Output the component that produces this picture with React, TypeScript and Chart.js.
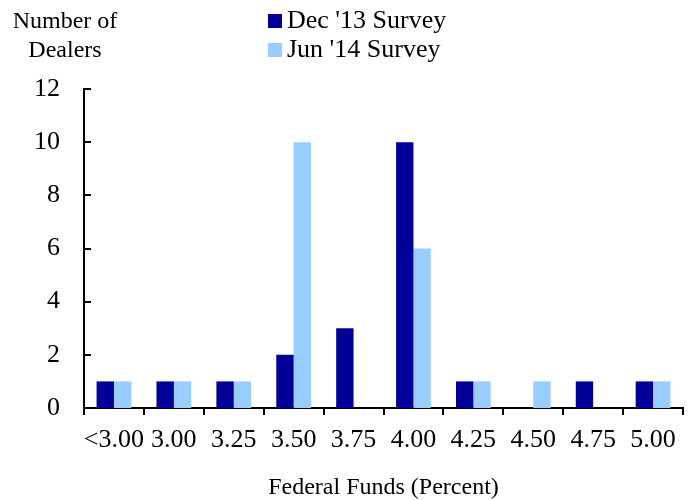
import React, { useEffect, useRef } from "react";
import { Chart, registerables } from "chart.js";

Chart.register(...registerables);

const categories = ["<3.00", "3.00", "3.25", "3.50", "3.75", "4.00", "4.25", "4.50", "4.75", "5.00"];
const dec13 = [1, 1, 1, 2, 3, 10, 1, 0, 1, 1];
const jun14 = [1, 1, 1, 10, 0, 6, 1, 1, 0, 1];
const seriesLabels = ["Dec '13 Survey", "Jun '14 Survey"];
const seriesColors = ["#000099", "#99CCFF"];
const yTitleLines = ["Number of", "Dealers"];
const xTitle = "Federal Funds (Percent)";
const yTicks = [0, 2, 4, 6, 8, 10, 12];

const FONT = "'Liberation Serif', 'Times New Roman', serif";

const extrasPlugin = {
  id: "extras",
  afterDraw(chart: any) {
    const ctx = chart.ctx;
    const area = chart.chartArea;
    const y = chart.scales.y;
    ctx.save();
    // inward y ticks
    ctx.strokeStyle = "#000";
    ctx.lineWidth = 2;
    yTicks.forEach((v) => {
      const py = Math.round(y.getPixelForValue(v));
      ctx.beginPath();
      ctx.moveTo(area.left - 1, py);
      ctx.lineTo(area.left + 7, py);
      ctx.stroke();
    });
    // y title
    ctx.fillStyle = "#000";
    ctx.font = `24px ${FONT}`;
    ctx.textAlign = "center";
    ctx.textBaseline = "middle";
    yTitleLines.forEach((t, i) => ctx.fillText(t, 65, 22 + i * 29));
    // legend
    ctx.font = `26px ${FONT}`;
    ctx.textAlign = "left";
    chart.data.datasets.forEach((ds: any, i: number) => {
      const top = 14 + i * 29;
      ctx.fillStyle = ds.backgroundColor;
      ctx.fillRect(268, top, 14, 14);
      ctx.fillStyle = "#000";
      ctx.fillText(ds.label, 287, top + 7);
    });
    ctx.restore();
  },
};

export default function App() {
  const ref = useRef<HTMLCanvasElement>(null);
  useEffect(() => {
    const chart = new Chart(ref.current!, {
      type: "bar",
      data: {
        labels: categories,
        datasets: [
          { label: seriesLabels[0], data: dec13, backgroundColor: seriesColors[0] },
          { label: seriesLabels[1], data: jun14, backgroundColor: seriesColors[1] },
        ],
      },
      options: {
        animation: false,
        responsive: false,
        maintainAspectRatio: false,
        datasets: { bar: { categoryPercentage: 0.58, barPercentage: 1 } },
        layout: { padding: { top: 89, right: 8, left: 0, bottom: 0 } },
        plugins: { legend: { display: false }, tooltip: { enabled: false } },
        scales: {
          x: {
            offset: true,
            grid: {
              display: true,
              offset: true,
              drawOnChartArea: false,
              drawTicks: true,
              tickLength: 7,
              lineWidth: 2,
              color: "#000",
            },
            border: { display: true, color: "#000", width: 2 },
            ticks: { color: "#000", font: { family: FONT, size: 26 }, padding: 10, maxRotation: 0, autoSkip: false },
            title: {
              display: true,
              text: xTitle,
              color: "#000",
              font: { family: FONT, size: 24 },
              padding: { top: 0, bottom: -2 },
            },
            afterFit: (s: any) => {
              s.height = 92;
            },
          },
          y: {
            min: 0,
            max: 12,
            ticks: { stepSize: 2, color: "#000", font: { family: FONT, size: 26 }, padding: 24 },
            grid: { display: false, drawTicks: false },
            border: { display: true, color: "#000", width: 2 },
            afterFit: (s: any) => {
              s.width = 84;
            },
          },
        },
      },
      plugins: [extrasPlugin],
    });
    return () => chart.destroy();
  }, []);
  return (
    <div style={{ position: "fixed", left: 0, top: 0, width: 691, height: 500, background: "#fff" }}>
      <canvas ref={ref} width={691} height={500} style={{ display: "block" }} />
    </div>
  );
}
